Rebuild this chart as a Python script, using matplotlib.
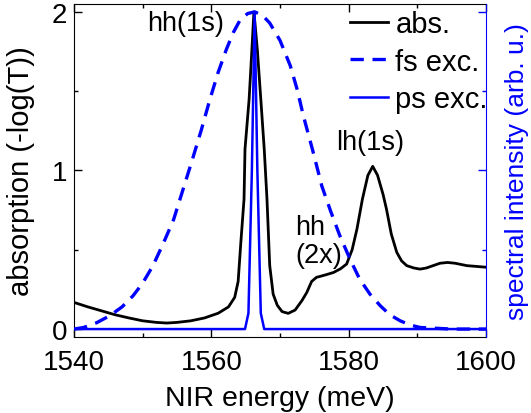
import matplotlib
matplotlib.use("Agg")
import matplotlib.pyplot as plt
from matplotlib.ticker import MultipleLocator, NullFormatter
from matplotlib.lines import Line2D

plt.rcParams['font.family'] = ['Liberation Sans', 'DejaVu Sans']

# --- absorption spectrum ---
abs_energy = [1540, 1542, 1544, 1546, 1548, 1550, 1552, 1553.5, 1555, 1557,
              1559, 1561, 1562.5, 1563.4, 1563.9, 1564.3, 1564.76, 1564.9,
              1565.5, 1565.9, 1566.2, 1566.7, 1567.2, 1567.7, 1568.1, 1568.5,
              1569.0, 1569.6, 1570.3, 1571.2, 1572.2, 1573.2, 1573.9, 1574.6,
              1575.3, 1576.5, 1577.8, 1578.8, 1579.7, 1580.5, 1581.2, 1582.0,
              1582.8, 1583.5, 1584.2, 1585.0, 1585.5, 1586.2, 1587.0, 1587.7,
              1588.45, 1589.5, 1590.4, 1591.3, 1592.3, 1593.3, 1594.4, 1595.5,
              1597.2, 1598.6, 1600]
abs_value = [0.168, 0.14, 0.115, 0.09, 0.07, 0.052, 0.042, 0.038, 0.042, 0.052,
             0.07, 0.10, 0.14, 0.20, 0.30, 0.55, 0.82, 1.135,
             1.45, 1.76, 2.0, 1.76, 1.45, 1.135, 0.82, 0.40,
             0.22, 0.15, 0.11, 0.099, 0.12, 0.18, 0.231, 0.30,
             0.326, 0.34, 0.357, 0.38, 0.41, 0.50, 0.63, 0.82,
             0.97, 1.026, 0.97, 0.85, 0.757, 0.60, 0.484, 0.43,
             0.40, 0.385, 0.378, 0.385, 0.40, 0.415, 0.42, 0.415,
             0.40, 0.395, 0.39]

# --- fs excitation spectrum ---
fs_energy = [1540, 1541.4, 1543.3, 1545.2, 1547, 1548.6, 1550, 1551.5, 1553,
             1554.5, 1555.8, 1557.1, 1558.5, 1559.8, 1561, 1562.2, 1563.2,
             1564.2, 1565.3, 1566.3, 1567.4, 1568.5, 1570, 1571.5, 1572.5,
             1573.4, 1574.8, 1576.1, 1577.4, 1578.7, 1580.2, 1581.6, 1583.1,
             1584.6, 1586, 1587.5, 1589, 1590.4, 1595, 1600]
fs_value = [0.0, 0.01, 0.04, 0.084, 0.14, 0.21, 0.29, 0.40, 0.54,
            0.69, 0.87, 1.05, 1.25, 1.45, 1.62, 1.765, 1.87,
            1.95, 1.99, 2.0, 1.98, 1.93, 1.82, 1.66, 1.51,
            1.345, 1.12, 0.90, 0.74, 0.59, 0.44, 0.315, 0.22,
            0.147, 0.09, 0.052, 0.025, 0.01, 0.0, 0.0]

# --- ps excitation spectrum ---
ps_energy = [1540, 1564.9, 1565.4, 1565.9, 1566.3, 1566.7, 1567.2, 1567.7, 1600]
ps_value = [0.0, 0.0, 0.1, 1.0, 2.0, 1.0, 0.1, 0.0, 0.0]

BLUE = '#0000ff'

fig = plt.figure(figsize=(5.31, 4.14), dpi=100)
ax = fig.add_axes([0.1394, 0.1836, 0.7759, 0.8044])
ax2 = ax.twinx()

ax.plot(abs_energy, abs_value, color='black', lw=2.0, zorder=3)
ax2.plot(fs_energy, fs_value, color=BLUE, lw=2.4, ls=(0, (4.0, 2.6)))
ax2.plot(ps_energy, ps_value, color=BLUE, lw=1.8)

ax.set_xlim(1540, 1600)
ax.set_ylim(-0.05, 2.05)
ax2.set_ylim(-0.05, 2.05)

ax.xaxis.set_major_locator(MultipleLocator(20))
ax.xaxis.set_minor_locator(MultipleLocator(10))
ax.yaxis.set_major_locator(MultipleLocator(1))
ax.yaxis.set_minor_locator(MultipleLocator(0.5))
ax2.yaxis.set_major_locator(MultipleLocator(1))
ax2.yaxis.set_minor_locator(MultipleLocator(0.5))
ax2.yaxis.set_major_formatter(NullFormatter())

ax.tick_params(which='both', direction='in', top=True, right=False, labelsize=20)
ax.tick_params(which='major', length=5.5, width=1)
ax.tick_params(which='minor', length=3, width=1)
ax.tick_params(axis='x', which='major', pad=9)
ax.tick_params(axis='y', which='major', pad=5)
ax2.tick_params(which='both', direction='in', colors=BLUE)
ax2.tick_params(which='major', length=5.5, width=1)
ax2.tick_params(which='minor', length=3, width=1)
ax.spines['right'].set_visible(False)
ax2.spines['right'].set_color(BLUE)
ax2.spines['left'].set_visible(False)
ax2.spines['top'].set_visible(False)
ax2.spines['bottom'].set_visible(False)

ax.set_xlabel('NIR energy (meV)', fontsize=20.5, labelpad=7)
ax.set_ylabel('absorption (-log(T))', fontsize=21)
ax.yaxis.set_label_coords(-0.095, 0.5)
ax2.set_ylabel('spectral intensity (arb. u.)', fontsize=19, color=BLUE)
ax2.yaxis.set_label_coords(1.045, 0.5)

ax.text(1556.3, 1.93, 'hh(1s)', fontsize=19.5, ha='center', va='center')
ax.text(1583.1, 1.18, 'lh(1s)', fontsize=19.5, ha='center', va='center')
ax.text(1572.2, 0.555, 'hh\n(2x)', fontsize=19.5, ha='left', va='center',
        linespacing=1.1)

handles = [Line2D([], [], color='black', lw=2.0),
           Line2D([], [], color=BLUE, lw=2.4, ls=(0, (4.0, 2.6))),
           Line2D([], [], color=BLUE, lw=1.8)]
ax2.legend(handles, ['abs.', 'fs exc.', 'ps exc.'], loc='upper left',
           bbox_to_anchor=(0.67, 0.982), frameon=False, fontsize=21,
           handlelength=1.3, handletextpad=0.25, labelspacing=0.33,
           borderpad=0.0, borderaxespad=0.0)

fig.savefig('out.png', dpi=100)
